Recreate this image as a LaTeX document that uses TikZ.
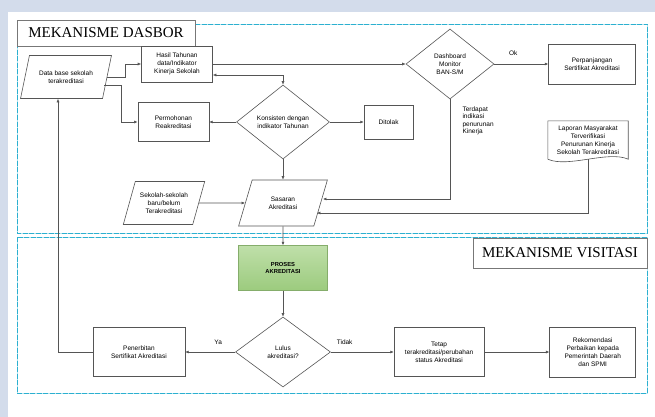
\documentclass[tikz,border=0pt]{standalone}
\usepackage{fontspec}
\setmainfont{Liberation Sans}
\newfontfamily\headfont{Liberation Serif}
\usetikzlibrary{shapes.geometric, arrows.meta, positioning, calc}
\definecolor{pagebg}{HTML}{D3DCEB}
\definecolor{zoneline}{HTML}{2CB0D0}
\definecolor{linegrey}{HTML}{555555}
\definecolor{procgreen}{HTML}{9CCB7E}
\definecolor{procgreenlt}{HTML}{BFDFA9}

\begin{document}
\begin{tikzpicture}[
  x=1pt, y=-1pt,
  font=\fontsize{6.5}{7.8}\selectfont,
  box/.style={rectangle, draw=linegrey, fill=white, line width=0.6pt,
              align=center, inner sep=1pt},
  io/.style={trapezium, trapezium left angle=65, trapezium right angle=115,
             trapezium stretches=true, draw=linegrey, fill=white,
             line width=0.6pt, align=center, inner sep=1pt},
  dec/.style={diamond, draw=linegrey, fill=white, line width=0.6pt,
              align=center, inner sep=0pt},
  proc/.style={rectangle, draw=procgreen!85!black, top color=procgreenlt,
               bottom color=procgreen, line width=0.4pt, align=center,
               font=\bfseries\fontsize{5.8}{7.2}\selectfont},
  title/.style={rectangle, draw=linegrey!80, fill=white, line width=0.6pt,
                font=\headfont\fontsize{15}{17}\selectfont},
  zone/.style={draw=zoneline, line width=0.9pt, dash pattern=on 5pt off 1.5pt,
               preaction={draw=zoneline!35, solid, line width=0.9pt}},
  arr/.style={-{Latex[length=3.5pt, width=3pt]}, draw=linegrey, line width=0.6pt},
  lbl/.style={font=\fontsize{6.5}{7.5}\selectfont},
]
\useasboundingbox (0,0) rectangle (655,417);
\fill[pagebg] (0,0) rectangle (655,417);
\fill[white] (8,12) rectangle (655,417);
% two zones
\draw[zone] (17,24) rectangle (647,233);
\draw[zone] (17,237) rectangle (647,393);
\node (dasbor) [title, minimum width=178pt, minimum height=26pt] at (106,33)
  {MEKANISME DASBOR};
\node (visitasi) [title, minimum width=174pt, minimum height=30pt] at (560,253)
  {MEKANISME VISITASI};

\node (data)  [io, minimum width=91pt, minimum height=43pt] at (66,77)
  {Data base sekolah\\terakreditasi};
\node (hasil) [box, minimum width=71pt, minimum height=36pt] at (177,64)
  {Hasil Tahunan\\data/Indikator\\Kinerja Sekolah};
\node (kons)  [dec, minimum width=93pt, minimum height=74pt] at (283,122)
  {Konsisten dengan\\indikator Tahunan};
\node (mohon) [box, minimum width=71pt, minimum height=39pt, left=27pt of kons]
  {Permohonan\\Reakreditasi};
\node (tolak) [box, minimum width=49pt, minimum height=34pt, right=34pt of kons]
  {Ditolak};
\node (dash)  [dec, minimum width=88pt, minimum height=70pt] at (450,64)
  {Dashboard\\Monitor\\BAN-S/M};
\node (panjang) [box, minimum width=87pt, minimum height=40pt, right=54pt of dash]
  {Perpanjangan\\Sertifikat Akreditasi};
% document shape
\node (lapor) [minimum width=80pt, minimum height=38pt, inner sep=1pt,
               align=center] at (588,140)
  {Laporan Masyarakat\\Terverifikasi\\Penurunan Kinerja\\Sekolah Terakreditasi};
\draw[draw=linegrey, line width=0.6pt]
  (lapor.south west) -- (lapor.north west) -- (lapor.north east) -- (lapor.south east)
  .. controls ($(lapor.south east)!0.5!(lapor.south)+(0,-9)$)
  and ($(lapor.south west)!0.5!(lapor.south)+(0,9)$) .. (lapor.south west);
\node (baru)  [io, minimum width=82pt, minimum height=43pt] at (164,203)
  {Sekolah-sekolah\\baru/belum\\Terakreditasi};
\node (sasaran) [io, minimum width=89pt, minimum height=46pt] at (283,203)
  {Sasaran\\Akreditasi};
\node (proses) [proc, minimum width=89pt, minimum height=45pt] at (283,268)
  {PROSES\\AKREDITASI};
\node (lulus) [dec, minimum width=95pt, minimum height=70pt] at (283,352)
  {Lulus\\akreditasi?};
\node (terbit) [box, minimum width=92pt, minimum height=49pt, left=50pt of lulus]
  {Penerbitan\\Sertifikat Akreditasi};
\node (tetap) [box, minimum width=90pt, minimum height=49pt, right=63pt of lulus]
  {Tetap\\terakreditasi/perubahan\\status Akreditasi};
\node (rekom) [box, minimum width=86pt, minimum height=50pt, right=65pt of tetap]
  {Rekomendasi\\Perbaikan kepada\\Pemerintah Daerah\\dan SPMI};
\node (tanda) [lbl, anchor=north west, align=left] at (459,103)
  {Terdapat\\indikasi\\penurunan\\Kinerja};
% edges
\draw [arr] (data.east) -| ($(hasil.west)+(-16,0)$) -- (hasil.west);
\draw [arr] ($(data.east)+(-3,8)$) -| ($(mohon.west)+(-16,0)$) -- (mohon.west);
\draw [arr] (hasil.east) -- (dash.west);
\draw [arr, {Latex[length=3.5pt, width=3pt]}-{Latex[length=3.5pt, width=3pt]}]
  ($(hasil.east)+(0,11)$) -| (kons.north);
\draw [arr] (dash) -- node[lbl, above=5pt, pos=0.35]{Ok} (panjang);
\draw [arr] (kons) -- (mohon);
\draw [arr] (kons) -- (tolak);
\draw [arr] (kons) -- (sasaran);
\draw [arr] (dash.south) |- ($(sasaran.east)+(2,-4)$);
\draw [arr] (lapor.south) |- ($(sasaran.east)+(-4,10)$);
\draw [arr] (baru) -- (sasaran);
\draw [arr] (sasaran) -- (proses);
\draw [arr] (proses) -- (lulus);
\draw [arr] (lulus) -- node[lbl, above=4pt, pos=0.34]{Ya} (terbit);
\draw [arr] (lulus) -- node[lbl, above=4pt, pos=0.22]{Tidak} (tetap);
\draw [arr] (tetap) -- (rekom);
\draw [arr] (terbit.west) -| ($(data.south)+(-8,0)$);
\end{tikzpicture}
\end{document}
